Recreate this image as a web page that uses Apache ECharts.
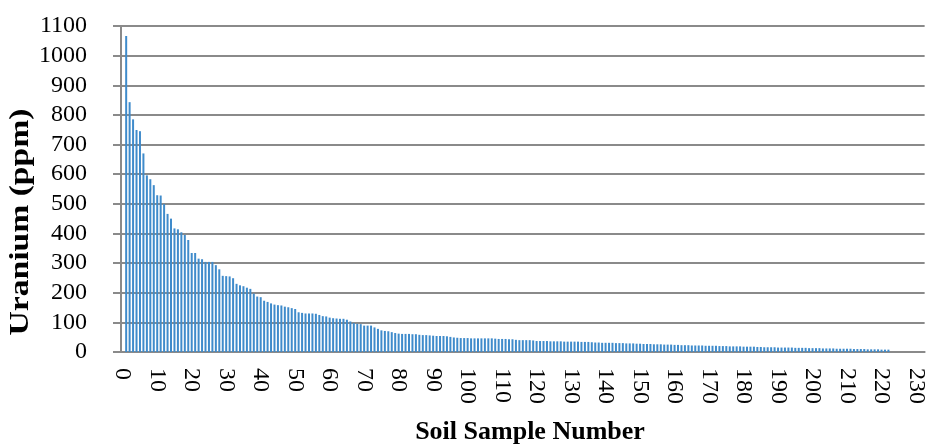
<!DOCTYPE html>
<html>
<head>
<meta charset="utf-8">
<script src="https://cdn.jsdelivr.net/npm/echarts@6/dist/echarts.min.js"></script>
<style>html,body{margin:0;padding:0;background:#fff}#c{width:928px;height:446px}</style>
</head>
<body>
<div id="c"></div>
<script>
// Uranium (ppm) for soil samples 1..222, sorted descending
const uranium = [1066,843,785,749,745,670,596,583,563,529,
528,499,466,450,417,414,404,395,378,334,
334,315,313,304,304,304,293,279,257,256,
255,249,230,225,222,217,213,197,187,185,
173,169,164,160,158,157,153,151,148,145,
134,132,130,130,130,129,125,121,120,116,
114,113,112,112,109,103,98,95,94,89,
89,89,83,78,73,71,70,67,64,62,
61,61,61,60,60,58,57,57,56,55,
54,54,54,53,51,49,48,47,47,47,
46,46,46,46,46,46,46,45,44,44,
44,43,43,41,40,40,40,40,39,37,
37,37,37,36,36,36,36,35,35,35,
35,35,34,34,34,33,32,32,31,31,
31,31,30,30,30,29,29,29,28,28,
27,27,27,26,26,26,25,25,25,24,
24,23,23,23,22,22,22,22,21,21,
21,21,20,20,20,19,19,19,19,18,
18,18,18,17,17,16,16,16,16,15,
15,15,15,15,14,14,14,14,13,13,
13,13,12,12,12,12,11,11,11,11,
11,10,10,10,10,9,9,9,9,8,
8,8];
const firstSample = 1;
const lastCategory = 232;
const xTickStep = 10;
const yTicks = [0,100,200,300,400,500,600,700,800,900,1000,1100];
const yTitle = 'Uranium (ppm)';
const xTitle = 'Soil Sample Number';

const categories = [];
for (let i = 0; i <= lastCategory; i++) categories.push(String(i));
const seriesData = categories.map((c, i) => {
  const k = i - firstSample;
  return (k >= 0 && k < uranium.length) ? uranium[k] : null;
});

const font = 'Liberation Serif, Times New Roman, serif';
const gray = '#8a8a8a';
const chart = echarts.init(document.getElementById('c'), null, {renderer: 'canvas'});
chart.setOption({
  animation: false,
  grid: {left: 121, right: 0, top: 26, bottom: 94, containLabel: false},
  xAxis: {
    type: 'category',
    data: categories,
    boundaryGap: true,
    axisLine: {show: true, lineStyle: {color: gray, width: 2}},
    axisTick: {show: false},
    axisLabel: {
      interval: (i) => i % xTickStep === 0,
      rotate: -90,
      margin: 16,
      color: '#000',
      fontFamily: font,
      fontSize: 24
    },
    splitLine: {show: false}
  },
  yAxis: {
    type: 'value',
    min: yTicks[0],
    max: yTicks[yTicks.length - 1],
    interval: yTicks[1] - yTicks[0],
    axisLine: {show: true, lineStyle: {color: gray, width: 2}},
    axisTick: {show: true, length: 8, lineStyle: {color: gray, width: 2}},
    axisLabel: {margin: 34, color: '#000', fontFamily: font, fontSize: 24,
      formatter: (v) => String(v)},
    splitLine: {show: true, lineStyle: {color: gray, width: 2}}
  },
  series: [{
    type: 'bar',
    data: seriesData,
    barWidth: '58%',
    itemStyle: {color: '#3f8bcb'}
  }],
  graphic: [
    {type: 'text', x: 21, y: 222, rotation: Math.PI / 2, scaleX: 1.2,
      style: {text: yTitle, fill: '#000', font: 'bold 28px ' + font, align: 'center', verticalAlign: 'middle'}},
    {type: 'text', x: 530, y: 432,
      style: {text: xTitle, fill: '#000', font: 'bold 26px ' + font, align: 'center', verticalAlign: 'middle'}}
  ]
});
</script>
</body>
</html>
